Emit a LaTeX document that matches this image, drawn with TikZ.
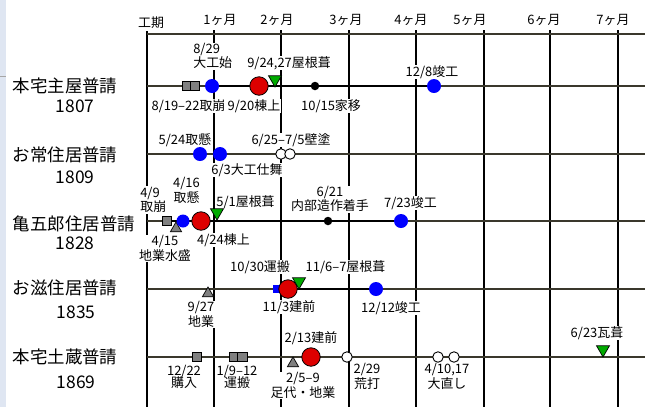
\documentclass[tikz,border=0pt]{standalone}
\usepackage{fontspec}
\setmainfont{Noto Sans CJK JP}
\usetikzlibrary{shapes.geometric}
\pgfdeclarelayer{bg}
\pgfsetlayers{bg,main}
\definecolor{rowline}{HTML}{3A382C}
\definecolor{mkred}{HTML}{DD0000}
\definecolor{mkgreen}{HTML}{00AA00}
\definecolor{mkgray}{HTML}{808080}
\definecolor{stripc}{HTML}{DFE6F2}
\newcommand\lblf{\fontsize{13}{14.5}\selectfont}
\newcommand\ttlf{\fontsize{17.5}{20}\selectfont}
\newcommand\hdrf{\fontsize{13}{14}\selectfont}
\begin{document}
\begin{tikzpicture}[x=1bp,y=-1bp,
  lbl/.style={font=\lblf, fill=white, inner sep=0.6bp, align=center},
  lbll/.style={font=\lblf, fill=white, inner sep=0.6bp, align=left, anchor=west},
  hdr/.style={font=\hdrf, inner sep=0},
  ttl/.style={font=\ttlf, inner sep=0},
  bdot/.style={circle, fill=blue, minimum size=14bp, inner sep=0},
  rdot/.style={circle, fill=mkred, draw=black, line width=0.8bp, minimum size=18.5bp, inner sep=0},
  gtri/.style={regular polygon, regular polygon sides=3, shape border rotate=180, fill=mkgreen, draw=black, line width=0.7bp, minimum size=15bp, inner sep=0},
  ytri/.style={regular polygon, regular polygon sides=3, fill=mkgray, draw=black, line width=0.7bp, minimum size=13bp, inner sep=0},
  gsq/.style={rectangle, fill=mkgray, draw=black, line width=0.7bp, minimum size=9.5bp, inner sep=0},
  bsq/.style={rectangle, fill=blue, minimum size=7.5bp, inner sep=0},
  kdot/.style={circle, fill=black, minimum size=8.5bp, inner sep=0},
  odot/.style={circle, fill=white, draw=black, line width=0.9bp, minimum size=10.5bp, inner sep=0},
  gridv/.style={black, line width=1.5bp},
  rowl/.style={rowline, line width=1.1bp},
  conn/.style={black, line width=2.2bp}
]
\useasboundingbox (0,0) rectangle (647,407);

% ---------- background layer: strip, grid, row lines ----------
\begin{pgfonlayer}{bg}
  \fill[white] (0,0) rectangle (647,407);
  \fill[stripc] (0,0) rectangle (6,407);
  \draw[gray!70, line width=0.8bp] (0,76) -- (6,76);
  \draw[gridv] (147,31) -- (147,407);
  \foreach \x in {214,281,349,416,484,550,618}
    \draw[gridv] (\x,30) -- (\x,407);
  \draw[rowl] (147,34) -- (645,34);
  \foreach \y in {86,154,221,289,357}
    \draw[rowl] (147,\y) -- (645,\y);
\end{pgfonlayer}

% ---------- header ----------
\node[hdr] (h0) at (151,23) {工期};
\node[hdr] (h1) at (220,20) {1ヶ月};
\node[hdr] (h2) at (277,20) {2ヶ月};
\node[hdr] (h3) at (346,20) {3ヶ月};
\node[hdr] (h4) at (411,20) {4ヶ月};
\node[hdr] (h5) at (470,20) {5ヶ月};
\node[hdr] (h6) at (544,20) {6ヶ月};
\node[hdr] (h7) at (613,20) {7ヶ月};

% ---------- row titles ----------
\node[ttl] (t1) at (65,86) {本宅主屋普請};
\node[ttl] (y1) at (75,106) {1807};
\node[ttl] (t2) at (65,155) {お常住居普請};
\node[ttl] (y2) at (75,177) {1809};
\node[ttl] (t3) at (74,224) {亀五郎住居普請};
\node[ttl] (y3) at (75,243) {1828};
\node[ttl] (t4) at (65,288) {お滋住居普請};
\node[ttl] (y4) at (76,312) {1835};
\node[ttl] (t5) at (65,357) {本宅土蔵普請};
\node[ttl] (y5) at (76,382) {1869};

% ---------- labels ----------
% row 1
\node[lbll] (l1a) at (192.5,56) {8/29\\大工始};
\node[lbl] (l1b) at (289,63) {9/24,27屋根葺};
\node[lbl] (l1c) at (188.5,106) {8/19–22取崩};
\node[lbl] (l1d) at (254,106) {9/20棟上};
\node[lbl] (l1e) at (331,106) {10/15家移};
\node[lbl] (l1f) at (432,72) {12/8竣工};
% row 2
\node[lbl] (l2a) at (185,140) {5/24取懸};
\node[lbl] (l2b) at (291,140) {6/25–7/5壁塗};
\node[lbl] (l2c) at (247,170) {6/3大工仕舞};
% row 3
\node[lbll] (l3a) at (139.5,200) {4/9\\取崩};
\node[lbl] (l3b) at (186.5,190.5) {4/16\\取懸};
\node[lbl] (l3c) at (245.5,202) {5/1屋根葺};
\node[lbl] (l3d) at (330,199) {6/21\\内部造作着手};
\node[lbl] (l3e) at (410.5,203) {7/23竣工};
\node[lbl] (l3f) at (165,248.5) {4/15\\地業水盛};
\node[lbl] (l3g) at (223.5,240) {4/24棟上};
% row 4
\node[lbl] (l4a) at (260,267) {10/30運搬};
\node[lbl] (l4b) at (345.5,267) {11/6–7屋根葺};
\node[lbl] (l4c) at (289,307) {11/3建前};
\node[lbl] (l4d) at (391,308) {12/12竣工};
\node[lbl] (l4e) at (201,314.5) {9/27\\地業};
% row 5
\node[lbl] (l5a) at (311,338) {2/13建前};
\node[lbl] (l5b) at (184,377) {12/22\\[-2.5bp]購入};
\node[lbl] (l5c) at (237,377) {1/9–12\\[-2.5bp]運搬};
\node[lbl] (l5d) at (303,385.5) {2/5–9\\足代・地業};
\node[lbl] (l5e) at (367,376.5) {2/29\\荒打};
\node[lbl] (l5f) at (447,376.5) {4/10,17\\大直し};
\node[lbl] (l5g) at (597,333) {6/23瓦葺};

% ---------- markers ----------
% row 1
\node[gsq] (m1a) at (187,86) {};
\node[gsq] (m1b) at (195,86) {};
\node[bdot] (m1c) at (212,86) {};
\node[rdot] (m1d) at (259,86) {};
\node[gtri] (m1e) at (275,79.5) {};
\node[kdot] (m1f) at (315,86) {};
\node[bdot] (m1g) at (434,86) {};
% row 2
\node[bdot] (m2a) at (200,154) {};
\node[bdot] (m2b) at (220,154) {};
\node[odot] (m2c) at (281,154) {};
\node[odot] (m2d) at (290,154) {};
% row 3
\node[gsq] (m3a) at (167,221) {};
\node[ytri] (m3b) at (176,228.5) {};
\node[bdot, minimum size=13bp] (m3c) at (183,221) {};
\node[rdot] (m3d) at (201,221) {};
\node[gtri] (m3e) at (217,212.5) {};
\node[kdot] (m3f) at (328,221) {};
\node[bdot] (m3g) at (401,221) {};
% row 4
\node[ytri] (m4a) at (208,293.5) {};
\node[bsq] (m4b) at (277,289) {};
\node[rdot] (m4c) at (288,289) {};
\node[gtri] (m4d) at (299,281.5) {};
\node[bdot] (m4e) at (376,289) {};
% row 5
\node[gsq] (m5a) at (197,357) {};
\node[gsq] (m5b) at (234.5,357) {};
\node[gsq] (m5c) at (242.5,357) {};
\node[ytri] (m5d) at (293,363.5) {};
\node[rdot] (m5e) at (311,357) {};
\node[odot] (m5f) at (347,357) {};
\node[odot] (m5g) at (438,357) {};
\node[odot] (m5h) at (454,357) {};
\node[gtri] (m5i) at (603,349.5) {};

% ---------- thick connectors (behind markers) ----------
\begin{pgfonlayer}{bg}
  \draw[conn] (m1c.center) -- (m1g.center);
  \draw[conn] (m3a.center) -- (m3g.center);
  \draw[conn] (m4b.center) -- (m4e.center);
\end{pgfonlayer}
\end{tikzpicture}
\end{document}
